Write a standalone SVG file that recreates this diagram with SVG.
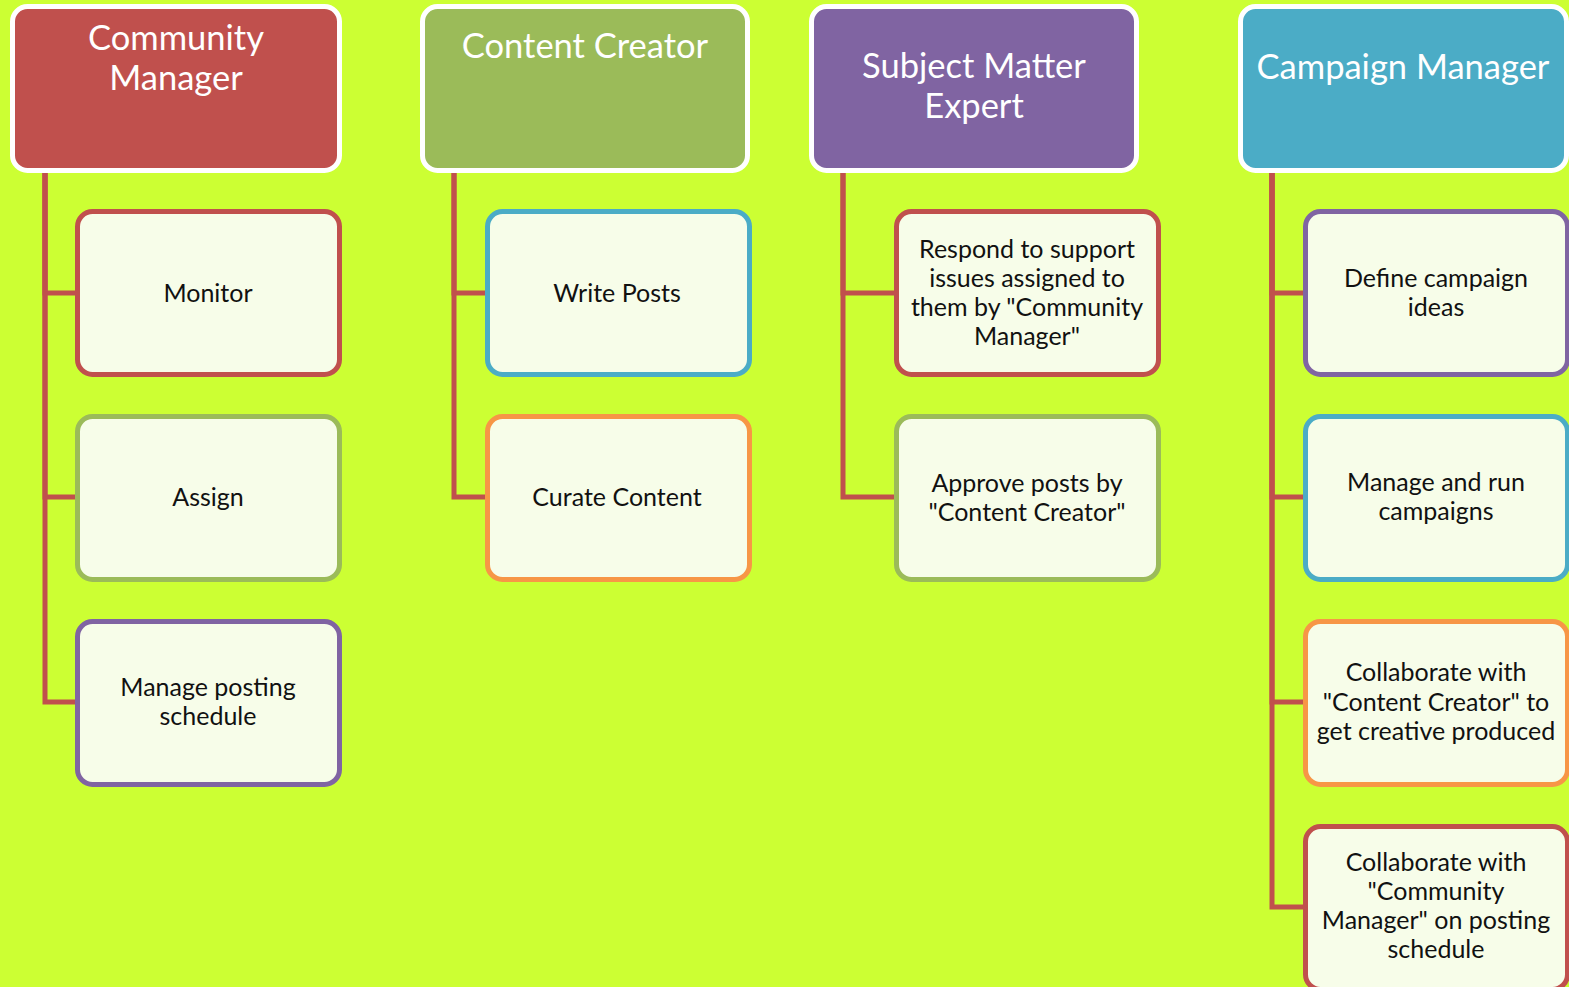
<svg xmlns="http://www.w3.org/2000/svg" width="1569" height="987" viewBox="0 0 1569 987">
<style>
.hdr{stroke:#FFFFFF;stroke-width:5}
.box{fill:#F7FDE9;stroke-width:5}
.ht{font-family:Lato,"Liberation Sans",sans-serif;font-size:34.5px;fill:#FFFFFF;text-anchor:middle}
.bt{font-family:Lato,"Liberation Sans",sans-serif;font-size:25px;fill:#111111;text-anchor:middle}
.con{fill:none;stroke:#C0504D;stroke-width:5}
.red{stroke:#C0504D}.grn{stroke:#9BBB59}.pur{stroke:#8064A2}.blu{stroke:#4BACC6}.org{stroke:#F79646}
</style>
<rect x="0" y="0" width="1569" height="987" fill="#CCFF33"/>
<g id="connectors">
<path class="con" d="M45,172 V293 H77"/>
<path class="con" d="M45,172 V497 H77"/>
<path class="con" d="M45,172 V702 H77"/>
<path class="con" d="M454,172 V293 H487"/>
<path class="con" d="M454,172 V497 H487"/>
<path class="con" d="M843,172 V293 H896"/>
<path class="con" d="M843,172 V497 H896"/>
<path class="con" d="M1272,172 V293 H1305"/>
<path class="con" d="M1272,172 V497 H1305"/>
<path class="con" d="M1272,172 V702 H1305"/>
<path class="con" d="M1272,172 V907 H1305"/>
</g>
<g id="community-manager">
<rect class="hdr" x="12.5" y="6.5" width="327" height="164" rx="15" fill="#C0504D"/>
<text class="ht" x="176" y="50">Community</text>
<text class="ht" x="176" y="90">Manager</text>
</g>
<g id="content-creator">
<rect class="hdr" x="422.5" y="6.5" width="325" height="164" rx="15" fill="#9BBB59"/>
<text class="ht" x="585" y="58">Content Creator</text>
</g>
<g id="subject-matter-expert">
<rect class="hdr" x="811.5" y="6.5" width="325" height="164" rx="15" fill="#8064A2"/>
<text class="ht" x="974" y="78">Subject Matter</text>
<text class="ht" x="974" y="118">Expert</text>
</g>
<g id="campaign-manager">
<rect class="hdr" x="1240.5" y="6.5" width="326" height="164" rx="15" fill="#4BACC6"/>
<text class="ht" x="1403" y="79">Campaign Manager</text>
</g>
<g id="monitor">
<rect class="box red" x="77.5" y="211.5" width="262" height="163" rx="15"/>
<text class="bt" x="208" y="302">Monitor</text>
</g>
<g id="assign">
<rect class="box grn" x="77.5" y="416.5" width="262" height="163" rx="15"/>
<text class="bt" x="208" y="506">Assign</text>
</g>
<g id="manage-posting-schedule">
<rect class="box pur" x="77.5" y="621.5" width="262" height="163" rx="15"/>
<text class="bt" x="208" y="696">Manage posting</text>
<text class="bt" x="208" y="725">schedule</text>
</g>
<g id="write-posts">
<rect class="box blu" x="487.5" y="211.5" width="262" height="163" rx="15"/>
<text class="bt" x="617" y="302">Write Posts</text>
</g>
<g id="curate-content">
<rect class="box org" x="487.5" y="416.5" width="262" height="163" rx="15"/>
<text class="bt" x="617" y="506">Curate Content</text>
</g>
<g id="respond-support">
<rect class="box red" x="896.5" y="211.5" width="262" height="163" rx="15"/>
<text class="bt" x="1027" y="258">Respond to support</text>
<text class="bt" x="1027" y="287">issues assigned to</text>
<text class="bt" x="1027" y="316">them by "Community</text>
<text class="bt" x="1027" y="345">Manager"</text>
</g>
<g id="approve-posts">
<rect class="box grn" x="896.5" y="416.5" width="262" height="163" rx="15"/>
<text class="bt" x="1027" y="492">Approve posts by</text>
<text class="bt" x="1027" y="521">"Content Creator"</text>
</g>
<g id="define-campaign-ideas">
<rect class="box pur" x="1305.5" y="211.5" width="262" height="163" rx="15"/>
<text class="bt" x="1436" y="287">Define campaign</text>
<text class="bt" x="1436" y="316">ideas</text>
</g>
<g id="manage-run-campaigns">
<rect class="box blu" x="1305.5" y="416.5" width="262" height="163" rx="15"/>
<text class="bt" x="1436" y="491">Manage and run</text>
<text class="bt" x="1436" y="520">campaigns</text>
</g>
<g id="collaborate-content-creator">
<rect class="box org" x="1305.5" y="621.5" width="262" height="163" rx="15"/>
<text class="bt" x="1436" y="681">Collaborate with</text>
<text class="bt" x="1436" y="711">"Content Creator" to</text>
<text class="bt" x="1436" y="740">get creative produced</text>
</g>
<g id="collaborate-community-manager">
<rect class="box red" x="1305.5" y="826.5" width="262" height="163" rx="15"/>
<text class="bt" x="1436" y="871">Collaborate with</text>
<text class="bt" x="1436" y="900">"Community</text>
<text class="bt" x="1436" y="929">Manager" on posting</text>
<text class="bt" x="1436" y="958">schedule</text>
</g>
</svg>
